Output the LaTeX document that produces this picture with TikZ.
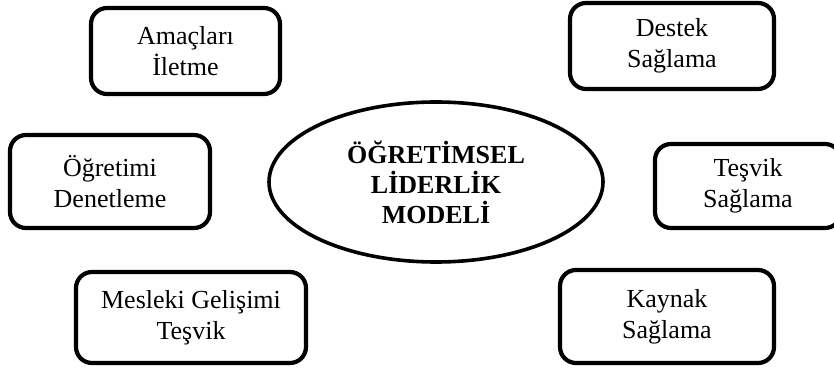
\documentclass[tikz,border=0pt]{standalone}
\usepackage{fontspec}
\setmainfont{Liberation Serif}
\usetikzlibrary{shapes.geometric}
\begin{document}
\begin{tikzpicture}[x=1pt,y=-1pt,
  boxstyle/.style={draw=black, line width=4.2pt, rounded corners=16pt, fill=white,
    inner sep=0pt, align=center, font=\fontsize{26}{31}\selectfont},
  ovalstyle/.style={draw=black, ellipse, line width=3.6pt, fill=white, inner sep=0pt,
    align=center, font=\fontsize{26}{30}\selectfont\bfseries}]
\useasboundingbox[fill=white] (0,0) rectangle (834,374);
\node[ovalstyle, minimum width=334pt, minimum height=160pt] (center) at (436,182) {ÖĞRETİMSEL\\LİDERLİK\\MODELİ};
\node[boxstyle, minimum width=189pt, minimum height=86pt] (amac) at (185.5,51) {Amaçları\\İletme};
\node[boxstyle, minimum width=204pt, minimum height=86pt] (destek) at (672,46) {Destek\\Sağlama};
\node[boxstyle, minimum width=200pt, minimum height=93pt] (ogret) at (110,181.5) {Öğretimi\\Denetleme};
\node[boxstyle, minimum width=186pt, minimum height=84pt] (tesvik) at (748,186) {Teşvik\\Sağlama};
\node[boxstyle, minimum width=230pt, minimum height=91pt] (mesleki) at (191,317.5) {Mesleki Gelişimi\\Teşvik};
\node[boxstyle, minimum width=214pt, minimum height=93pt] (kaynak) at (667,316.5) {Kaynak\\Sağlama};
\end{tikzpicture}
\end{document}
